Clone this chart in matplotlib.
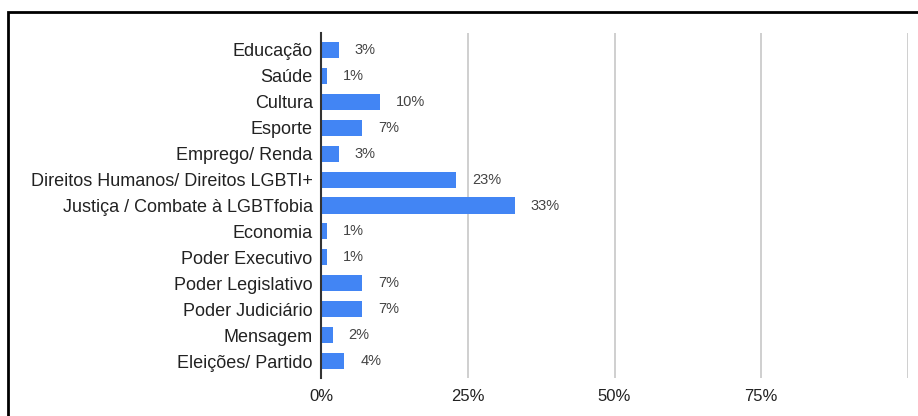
import matplotlib.pyplot as plt
from matplotlib.patches import Rectangle

plt.rcParams["font.family"] = ["Liberation Sans", "DejaVu Sans"]

categories = [
    "Educação", "Saúde", "Cultura", "Esporte", "Emprego/ Renda",
    "Direitos Humanos/ Direitos LGBTI+", "Justiça / Combate à LGBTfobia",
    "Economia", "Poder Executivo", "Poder Legislativo", "Poder Judiciário",
    "Mensagem", "Eleições/ Partido",
]
shares = [3, 1, 10, 7, 3, 23, 33, 1, 1, 7, 7, 2, 4]
x_ticks = [0, 25, 50, 75, 100]
x_tick_labels = ["0%", "25%", "50%", "75%", ""]

BLUE = "#4285f4"

fig = plt.figure(figsize=(9.18, 4.16), dpi=100)
ax = fig.add_axes([321 / 918, 1 - 378 / 416, 587 / 918, 345 / 416])

rows = list(range(len(categories)))
ax.barh(rows, shares, height=0.62, color=BLUE, zorder=3)
for y, v in zip(rows, shares):
    ax.annotate(f"{v}%", (v, y), xytext=(11.5, 0), textcoords="offset points",
                ha="left", va="center", fontsize=10.5, color="#444444")

ax.set_xlim(0, 100)
ax.set_ylim(len(categories) - 1 + 0.65, -0.65)
ax.set_yticks(rows)
ax.set_yticklabels(categories, fontsize=13, color="#222222")
ax.set_xticks(x_ticks)
ax.set_xticklabels(x_tick_labels, fontsize=12, color="#222222")
ax.tick_params(axis="both", length=0)
ax.tick_params(axis="y", pad=6)
ax.tick_params(axis="x", pad=8)

ax.grid(axis="x", color="#cccccc", linewidth=1.3, zorder=0)
for side in ("top", "right", "bottom"):
    ax.spines[side].set_visible(False)
ax.spines["left"].set_color("#333333")
ax.spines["left"].set_linewidth(1.5)
ax.spines["left"].set_zorder(4)

# outer frame, running off the right and bottom edges
fig.patches.append(Rectangle((8 / 918, -0.1), 1.0, 1 - 12 / 416 + 0.1,
                             transform=fig.transFigure, fill=False,
                             edgecolor="black", linewidth=2))

fig.savefig("out.png", dpi=100, facecolor="white")
